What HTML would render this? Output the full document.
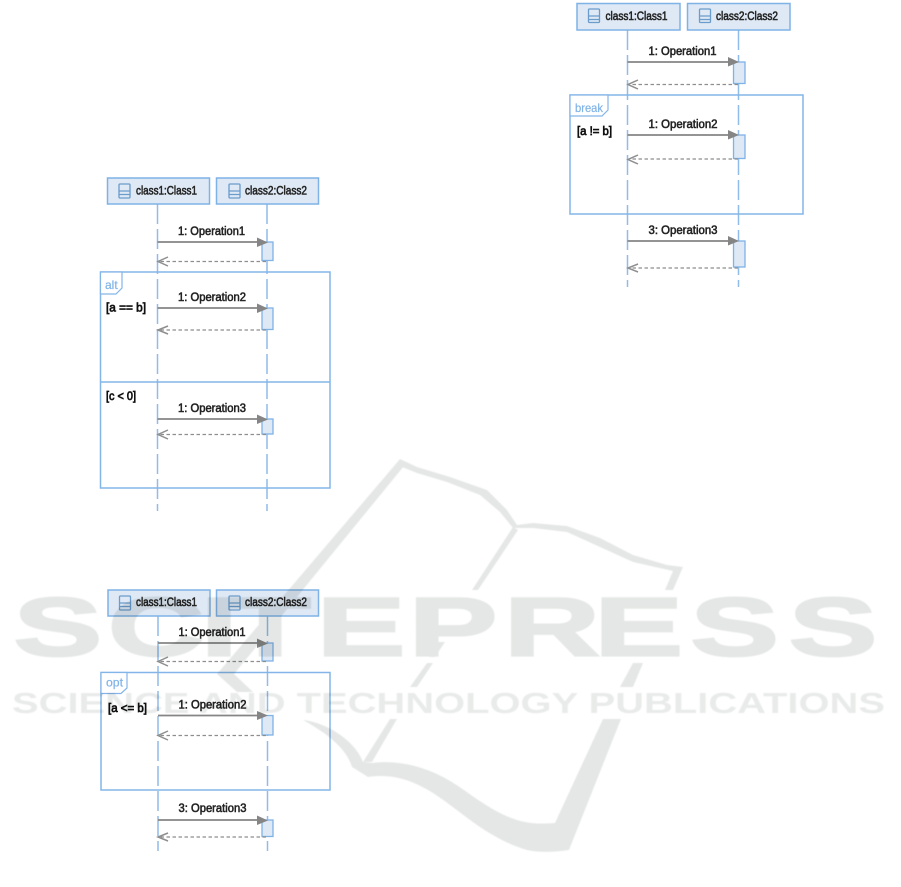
<!DOCTYPE html>
<html><head><meta charset="utf-8"><style>
html,body{margin:0;padding:0;background:#fff;width:901px;height:887px;overflow:hidden}
svg{display:block}
.b{fill:#dfe9f5;stroke:#7fb2e6;stroke-width:1.5}
.f{fill:none;stroke:#84b5e8;stroke-width:1.5}
.t{fill:#fff;stroke:#84b5e8;stroke-width:1.2}
.l{stroke:#8fbce9;stroke-width:1.5;stroke-dasharray:20 5;fill:none}
.m{stroke:#858585;stroke-width:1.7;fill:none}
.h{fill:#858585;stroke:none}
.r{stroke:#8e8e8e;stroke-width:1.3;stroke-dasharray:3.500 2.500;fill:none}
.o{stroke:#8e8e8e;stroke-width:1.500;fill:none}
.a{fill:#dfe9f5;stroke:#7fb2e6;stroke-width:1.300}
.i{fill:none;stroke:#6a9ccc;stroke-width:1.300}
text{font-family:"Liberation Sans",sans-serif}
.n{font-size:11.500px;fill:#222;stroke:#222;stroke-width:.55}
.c{font-size:11.500px;fill:#111;stroke:#111;stroke-width:.7}
.k{font-size:12px;fill:#7fb3e8;stroke:#7fb3e8;stroke-width:.2}
</style></head><body>
<svg width="901" height="887" viewBox="0 0 901 887" xmlns="http://www.w3.org/2000/svg">
<g style="filter:blur(.35px)">
<!-- Diagram 1: alt -->
<path class="l" d="M157.500 204V511M267 204V511"/>
<rect class="b" x="107.500" y="178" width="102" height="26"/><rect class="b" x="216.500" y="178" width="102" height="26"/>
<rect class="i" x="119" y="184" width="11" height="14" rx="1"/><path class="i" d="M119 191H130M119 194.500H130"/>
<rect class="i" x="229" y="184" width="11" height="14" rx="1"/><path class="i" d="M229 191H240M229 194.500H240"/>
<text class="n" x="136" y="194.500" textLength="61" lengthAdjust="spacingAndGlyphs">class1:Class1</text>
<text class="n" x="245" y="194.500" textLength="62" lengthAdjust="spacingAndGlyphs">class2:Class2</text>
<rect class="f" x="100.500" y="272" width="229.500" height="216"/>
<path class="t" d="M100.500 272H122V288L116 294H100.500Z"/>
<path class="f" d="M100.500 382H330"/>
<text class="k" x="105" y="289">alt</text>
<text class="c" x="106" y="311.500" textLength="40" lengthAdjust="spacingAndGlyphs">[a == b]</text>
<text class="c" x="106" y="400" textLength="30" lengthAdjust="spacingAndGlyphs">[c &lt; 0]</text>
<rect class="a" x="262" y="242" width="11" height="18.500"/><rect class="a" x="262" y="308" width="11" height="21.500"/><rect class="a" x="262" y="419" width="11" height="15"/>
<text class="n" x="178" y="235" textLength="67" lengthAdjust="spacingAndGlyphs">1: Operation1</text>
<path class="m" d="M157.500 242H262"/><path class="h" d="M257 237.500L268 242.500L257 247Z"/>
<path class="r" d="M266 261.500H160"/><path class="o" d="M168 257L158 261.500L168 266"/>
<text class="n" x="178" y="301" textLength="68" lengthAdjust="spacingAndGlyphs">1: Operation2</text>
<path class="m" d="M157.500 308H262"/><path class="h" d="M257 303.500L268 308.500L257 313Z"/>
<path class="r" d="M266 330H160"/><path class="o" d="M168 326L158 330L168 334"/>
<text class="n" x="178" y="412" textLength="68" lengthAdjust="spacingAndGlyphs">1: Operation3</text>
<path class="m" d="M157.500 419H262"/><path class="h" d="M257 414.500L268 419.500L257 424Z"/>
<path class="r" d="M266 434.500H160"/><path class="o" d="M168 430L158 434.500L168 439"/>

<!-- Diagram 2: opt -->
<path class="l" d="M158 616V851M267.500 616V851"/>
<rect class="b" x="108" y="590" width="102" height="26"/><rect class="b" x="216.500" y="590" width="102" height="26"/>
<rect class="i" x="119.500" y="596" width="11" height="14" rx="1"/><path class="i" d="M119.500 603H130.500M119.500 606.500H130.500"/>
<rect class="i" x="229" y="596" width="11" height="14" rx="1"/><path class="i" d="M229 603H240M229 606.500H240"/>
<text class="n" x="136" y="606" textLength="61" lengthAdjust="spacingAndGlyphs">class1:Class1</text>
<text class="n" x="245" y="606" textLength="62" lengthAdjust="spacingAndGlyphs">class2:Class2</text>
<rect class="f" x="101" y="672.500" width="229" height="117.500"/>
<path class="t" d="M101 672.500H127V688L121 693.500H101Z"/>
<text class="k" x="106" y="686.500" textLength="17" lengthAdjust="spacingAndGlyphs">opt</text>
<text class="c" x="108" y="712" textLength="39" lengthAdjust="spacingAndGlyphs">[a &lt;= b]</text>
<rect class="a" x="262" y="643" width="11" height="18"/><rect class="a" x="262" y="715.500" width="11" height="19.500"/><rect class="a" x="262" y="820" width="11" height="16.500"/>
<text class="n" x="178.500" y="636" textLength="67" lengthAdjust="spacingAndGlyphs">1: Operation1</text>
<path class="m" d="M158 643H262"/><path class="h" d="M257 638.500L268 643.500L257 648Z"/>
<path class="r" d="M266 661.500H160"/><path class="o" d="M168 657L158 661.500L168 666"/>
<text class="n" x="178.500" y="708.500" textLength="68" lengthAdjust="spacingAndGlyphs">1: Operation2</text>
<path class="m" d="M158 715.500H262"/><path class="h" d="M257 711L268 715.500L257 720Z"/>
<path class="r" d="M266 735.500H160"/><path class="o" d="M168 731L158 735.500L168 740"/>
<text class="n" x="178.500" y="812" textLength="68" lengthAdjust="spacingAndGlyphs">3: Operation3</text>
<path class="m" d="M158 820H262"/><path class="h" d="M257 815.500L268 820.500L257 825Z"/>
<path class="r" d="M266 837H160"/><path class="o" d="M168 833L158 837L168 841"/>

<!-- Diagram 3: break -->
<path class="l" d="M627.500 30V287M738.500 30V287"/>
<rect class="b" x="577" y="3.500" width="103" height="26.500"/><rect class="b" x="687.500" y="3.500" width="102.500" height="26.500"/>
<rect class="i" x="588.500" y="9" width="11" height="13.500" rx="1"/><path class="i" d="M588.500 16H599.500M588.500 19.500H599.500"/>
<rect class="i" x="699.500" y="9" width="11" height="13.500" rx="1"/><path class="i" d="M699.500 16H710.500M699.500 19.500H710.500"/>
<text class="n" x="605.500" y="20" textLength="62" lengthAdjust="spacingAndGlyphs">class1:Class1</text>
<text class="n" x="716" y="20" textLength="62" lengthAdjust="spacingAndGlyphs">class2:Class2</text>
<rect class="f" x="570" y="95" width="233" height="119"/>
<path class="t" d="M570 95H608V110L602 116H570Z"/>
<text class="k" x="575" y="112" textLength="28" lengthAdjust="spacingAndGlyphs">break</text>
<text class="c" x="577" y="135" textLength="35" lengthAdjust="spacingAndGlyphs">[a != b]</text>
<rect class="a" x="733.500" y="62" width="11.500" height="21.500"/><rect class="a" x="733.500" y="135" width="11.500" height="23.500"/><rect class="a" x="733.500" y="241" width="11.500" height="26"/>
<text class="n" x="648.500" y="55" textLength="68" lengthAdjust="spacingAndGlyphs">1: Operation1</text>
<path class="m" d="M627.500 62H733"/><path class="h" d="M728 57L739 62L728 66.500Z"/>
<path class="r" d="M738 84.500H630"/><path class="o" d="M638 80L628 84.500L638 89"/>
<text class="n" x="648.500" y="128" textLength="69" lengthAdjust="spacingAndGlyphs">1: Operation2</text>
<path class="m" d="M627.500 135H733"/><path class="h" d="M728 130L739 135L728 139.500Z"/>
<path class="r" d="M738 159H630"/><path class="o" d="M638 155L628 159.500L638 164"/>
<text class="n" x="648.500" y="234" textLength="69" lengthAdjust="spacingAndGlyphs">3: Operation3</text>
<path class="m" d="M627.500 241H733"/><path class="h" d="M728 236L739 241L728 245.500Z"/>
<path class="r" d="M738 268H630"/><path class="o" d="M638 264L628 268L638 272"/>
</g>

<!-- Watermark -->
<g style="mix-blend-mode:multiply;filter:blur(.4px)">
<text transform="translate(0,655.500) scale(1.6,1)" x="8.500 67.500 125.500 143.500 198 255.500 315 371.500 431.500 493" y="0" font-size="83" font-weight="700" fill="#e5e7e6" stroke="#e5e7e6" stroke-width="2.200" style="font-family:'Liberation Sans',sans-serif">SCITEPRESS</text>
<text x="12" y="713" font-size="29" font-weight="700" textLength="873" lengthAdjust="spacingAndGlyphs" fill="#e9ebea" style="font-family:'Liberation Sans',sans-serif">SCIENCE AND TECHNOLOGY PUBLICATIONS</text>
<g fill="#e5e7e6">
<!-- left edge -->
<path d="M400 459L217 674L237 692L253 692L234 674L404 466Z"/>
<!-- top curves -->
<path d="M400 459L417 467L450 477L487 490L507 510L517 525L533 523L567 526L600 538L633 555L667 565L683 567L673 590L665 590L673 571L633 562L600 547L567 532L533 528L513 528L500 512L480 495L447 482L417 473L402 467Z"/>
<!-- spine pieces -->
<path d="M513 527L518 530L478 590L472 590Z"/>
<path d="M438 642L445 642L435 657L429 657Z"/>
<path d="M427 663L433 663L417 687L410 687Z"/>
<path d="M390 719L397 719L372 762L363 762Z"/>
<!-- right edge pieces -->
<path d="M633 663L643 663L633 687L620 687Z"/>
<!-- bottom -->
<path d="M603 719L621 719L569 850C555 852 540 853 527 850C510 845 495 837 480 827C465 817 450 804 433 793C415 782 395 773 368 777L352 767C347 750 330 735 303 720C325 722 355 740 363 762L372 763C395 760 420 765 443 777C460 786 470 795 483 803C495 811 505 816 517 820C530 824 542 824 555 823Z"/>
</g>
</g>
</svg>
</body></html>
